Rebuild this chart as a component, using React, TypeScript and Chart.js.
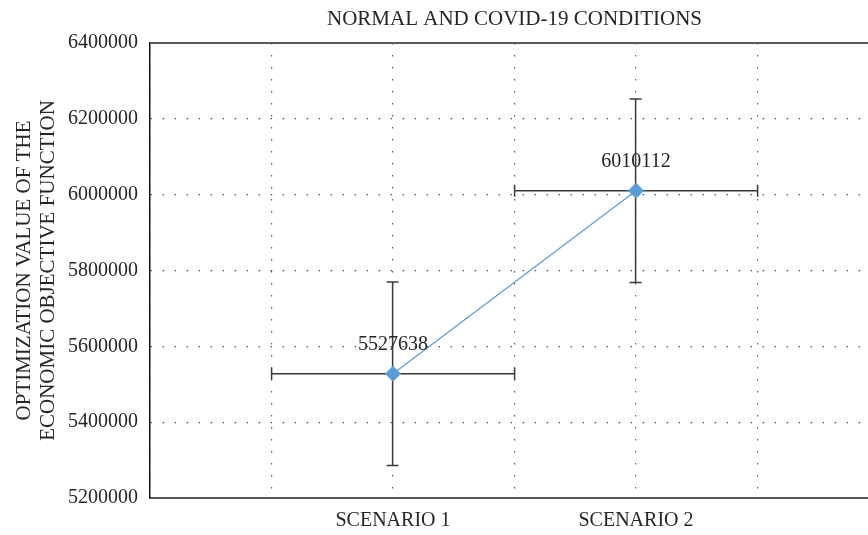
import React, { useEffect, useRef } from "react";
import { Chart, registerables } from "chart.js";

Chart.register(...registerables);

// Scenario names and their optimisation results
const categories = ["SCENARIO 1", "SCENARIO 2"];
const scenarioPositions = [1, 2];
const objectiveValues = [5527638, 6010112];
// Error bar half-widths: along the scenario axis and along the value axis
const xErrors = [0.5, 0.5];
const yErrors = [242000, 242000];
const yTicks = [5200000, 5400000, 5600000, 5800000, 6000000, 6200000, 6400000];

const chartTitle = "NORMAL AND COVID-19 CONDITIONS";
const yAxisTitle = ["OPTIMIZATION VALUE OF THE", "ECONOMIC OBJECTIVE FUNCTION"];

const FONT = "'Liberation Serif', 'Times New Roman', serif";
const TEXT = "#262626";
const SERIES = "#5B9BD5";
const ERR = "#3a3a3a";
const GRID = "#5a5a5a";
const GRID_WIDTH = 1.2;

// snap like the grid lines so the vertical bars sit on them
const snap = (p: number) => Math.round(p - GRID_WIDTH / 2) + GRID_WIDTH / 2;

const errorBars = {
  id: "errorBars",
  beforeDatasetsDraw(chart: any) {
    const { ctx } = chart;
    const xs = chart.scales.x;
    const ys = chart.scales.y;
    const cap = 6;
    ctx.save();
    ctx.strokeStyle = ERR;
    ctx.lineWidth = 1.5;
    objectiveValues.forEach((v, i) => {
      const px = snap(xs.getPixelForValue(scenarioPositions[i]));
      const py = ys.getPixelForValue(v);
      const x0 = snap(xs.getPixelForValue(scenarioPositions[i] - xErrors[i]));
      const x1 = snap(xs.getPixelForValue(scenarioPositions[i] + xErrors[i]));
      const y0 = ys.getPixelForValue(v + yErrors[i]);
      const y1 = ys.getPixelForValue(v - yErrors[i]);
      ctx.beginPath();
      // horizontal bar with end caps
      ctx.moveTo(x0, py);
      ctx.lineTo(x1, py);
      ctx.moveTo(x0, py - cap);
      ctx.lineTo(x0, py + cap);
      ctx.moveTo(x1, py - cap);
      ctx.lineTo(x1, py + cap);
      // vertical bar with end caps
      ctx.moveTo(px, y0);
      ctx.lineTo(px, y1);
      ctx.moveTo(px - cap, y0);
      ctx.lineTo(px + cap, y0);
      ctx.moveTo(px - cap, y1);
      ctx.lineTo(px + cap, y1);
      ctx.stroke();
    });
    ctx.restore();
  },
  afterDatasetsDraw(chart: any) {
    const { ctx, chartArea } = chart;
    const xs = chart.scales.x;
    const ys = chart.scales.y;
    ctx.save();
    // top frame line
    ctx.strokeStyle = "#595959";
    ctx.lineWidth = 2;
    ctx.beginPath();
    ctx.moveTo(chartArea.left, chartArea.top);
    ctx.lineTo(chartArea.right, chartArea.top);
    ctx.stroke();
    // value labels above the markers
    ctx.fillStyle = TEXT;
    ctx.font = `20px ${FONT}`;
    ctx.textAlign = "center";
    ctx.textBaseline = "middle";
    objectiveValues.forEach((v, i) => {
      const px = xs.getPixelForValue(scenarioPositions[i]);
      const py = ys.getPixelForValue(v);
      ctx.fillText(String(v), px, py - 29);
    });
    ctx.restore();
  },
};

export default function App() {
  const ref = useRef<HTMLCanvasElement | null>(null);

  useEffect(() => {
    if (!ref.current) return;
    const chart = new Chart(ref.current, {
      type: "line",
      data: {
        datasets: [
          {
            data: objectiveValues.map((v, i) => ({ x: scenarioPositions[i], y: v })),
            borderColor: SERIES,
            borderWidth: 1.2,
            backgroundColor: SERIES,
            pointStyle: "rectRot",
            pointRadius: 8,
            pointBorderWidth: 0,
            pointBackgroundColor: SERIES,
            fill: false,
            tension: 0,
          },
        ],
      },
      options: {
        animation: false,
        responsive: false,
        devicePixelRatio: 1,
        events: [],
        layout: { padding: 0 },
        plugins: {
          legend: { display: false },
          tooltip: { enabled: false },
          title: {
            display: true,
            text: chartTitle,
            fullSize: false,
            color: TEXT,
            font: { family: FONT, size: 21, weight: "normal", lineHeight: 1.15 },
            padding: { top: 7, bottom: 11.85 },
          },
        },
        scales: {
          x: {
            type: "linear",
            min: 0,
            max: 3,
            afterFit: (s: any) => {
              s.height = 37;
            },
            afterBuildTicks: (s: any) => {
              const t = [];
              for (let v = 0; v <= 3; v += 0.5) t.push({ value: v });
              s.ticks = t;
            },
            ticks: {
              autoSkip: false,
              maxRotation: 0,
              padding: 11,
              color: TEXT,
              font: { family: FONT, size: 20 },
              callback: (v: any) => {
                const n = Number(v);
                const idx = scenarioPositions.indexOf(n);
                return idx >= 0 ? categories[idx] : "";
              },
            },
            grid: {
              color: GRID,
              lineWidth: GRID_WIDTH,
              drawTicks: false,
            },
            border: { display: true, color: "#595959", width: 2, dash: [1.6, 10.4] },
          },
          y: {
            min: 5200000,
            max: 6400000,
            afterFit: (s: any) => {
              s.width = 150;
            },
            afterBuildTicks: (s: any) => {
              s.ticks = yTicks.map((v) => ({ value: v }));
            },
            ticks: {
              padding: 12,
              color: TEXT,
              font: { family: FONT, size: 20 },
              callback: (v: any) => String(v),
            },
            grid: {
              color: GRID,
              lineWidth: GRID_WIDTH,
              drawTicks: false,
            },
            border: { display: true, color: "#111", width: 1.5, dash: [1.6, 10.4] },
            title: {
              display: true,
              text: yAxisTitle,
              color: TEXT,
              font: { family: FONT, size: 21, lineHeight: 1.15 },
              padding: { top: 12.5, bottom: 0 },
            },
          },
        },
      },
      plugins: [errorBars],
    } as any);
    return () => chart.destroy();
  }, []);

  return (
    <div
      style={{
        position: "fixed",
        left: 0,
        top: 0,
        width: 868,
        height: 535,
        overflow: "hidden",
        background: "#fff",
      }}
    >
      <canvas ref={ref} width={890} height={535} style={{ display: "block", width: 890, height: 535 }} />
    </div>
  );
}
